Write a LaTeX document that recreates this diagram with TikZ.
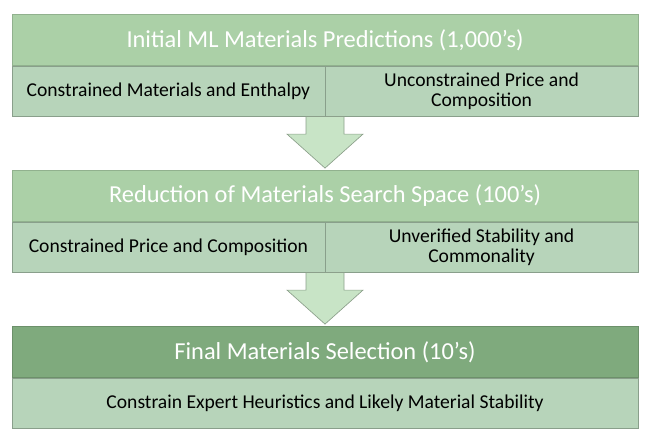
\documentclass[tikz,border=0pt]{standalone}
\usepackage{fontspec}
\setmainfont{Carlito}
\usetikzlibrary{positioning,calc}

\definecolor{headgreen}{RGB}{171,208,167}
\definecolor{finalgreen}{RGB}{127,170,125}
\definecolor{rowgreen}{RGB}{183,212,186}
\definecolor{arrowgreen}{RGB}{200,228,198}

\begin{document}
\begin{tikzpicture}[
    % Global styles
    x=0.75pt, y=-0.75pt,
    headbox/.style={rectangle, draw=headgreen!85!black, fill=headgreen, line width=0.6pt,
        minimum width=469.5pt, minimum height=38.25pt, inner sep=0pt,
        text=white, font=\fontsize{18.3}{20}\selectfont},
    finalbox/.style={headbox, draw=finalgreen!85!black, fill=finalgreen},
    halfrow/.style={rectangle, draw=rowgreen!75!black, fill=rowgreen, line width=0.5pt,
        minimum width=234.75pt, minimum height=37.5pt, inner sep=0pt, align=center,
        font=\fontsize{14.7}{15.3}\selectfont},
    fullrow/.style={halfrow, minimum width=469.5pt},
    flowarrow/.style={fill=arrowgreen, draw=arrowgreen!70!black, line width=0.5pt, line join=miter}
    ]
    \useasboundingbox (0,0) rectangle (650,441);

    % ===========================
    % STAGE 1
    % ===========================
    \node[headbox] (head1) at (325, 40) {Initial ML Materials Predictions (1,000’s)};
    \node[halfrow, anchor=north west] (row1l) at (head1.south west) {Constrained Materials and Enthalpy};
    \node[halfrow, anchor=north east] (row1r) at (head1.south east) {Unconstrained Price and\\Composition};

    % ===========================
    % STAGE 2
    % ===========================
    \node[headbox] (head2) at (325, 196) {Reduction of Materials Search Space (100’s)};
    \node[halfrow, anchor=north west] (row2l) at (head2.south west) {Constrained Price and Composition};
    \node[halfrow, anchor=north east] (row2r) at (head2.south east) {Unverified Stability and\\Commonality};

    % ===========================
    % STAGE 3
    % ===========================
    \node[finalbox] (head3) at (325, 352) {Final Materials Selection (10’s)};
    \node[fullrow, anchor=north] (row3) at (head3.south) {Constrain Expert Heuristics and Likely Material Stability};

    % ===========================
    % ARROWS
    % ===========================
    % Stage 1 to stage 2
    \draw[flowarrow] ($(head2.north)+(0,-2)$) -- ++(-38,-34) -- ++(19,0)
        -- ($(head2.north |- row1l.south)+(-19,0)$)
        -- ($(head2.north |- row1l.south)+(19,0)$)
        -- ($(head2.north)+(19,-36)$) -- ++(19,0) -- cycle;

    % Stage 2 to stage 3
    \draw[flowarrow] ($(head3.north)+(0,-2)$) -- ++(-38,-34) -- ++(19,0)
        -- ($(head3.north |- row2l.south)+(-19,0)$)
        -- ($(head3.north |- row2l.south)+(19,0)$)
        -- ($(head3.north)+(19,-36)$) -- ++(19,0) -- cycle;

\end{tikzpicture}
\end{document}
